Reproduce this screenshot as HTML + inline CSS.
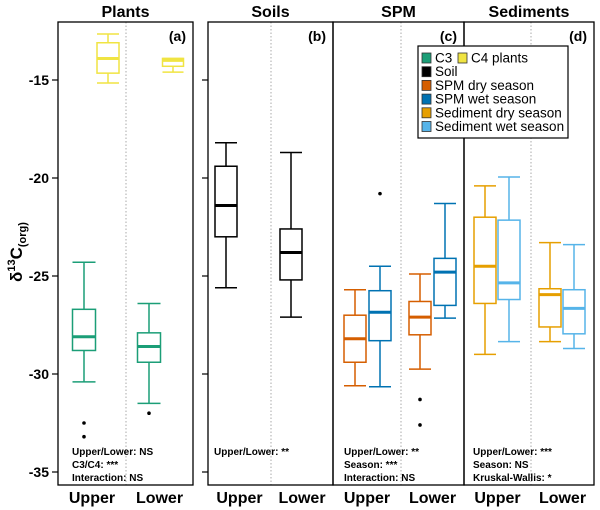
<!DOCTYPE html>
<html><head><meta charset="utf-8"><style>
body{margin:0;background:#fff}
svg{display:block;font-family:"Liberation Sans",Arial,sans-serif}
</style></head><body>
<svg id="chart" width="600" height="510" viewBox="0 0 600 510"></svg>
<script>
// Box stats: [whiskerTop, q3, median, q1, whiskerLow]
const groupNames = ["C3 Upper","C3 Lower","C4 Upper","C4 Lower","Soil Upper","Soil Lower","SPM dry Upper","SPM wet Upper","SPM dry Lower","SPM wet Lower","Sed dry Upper","Sed wet Upper","Sed dry Lower","Sed wet Lower"];
const whiskerTop = [-24.3,-26.4,-12.65,-13.9,-18.2,-18.7,-25.7,-24.5,-24.9,-21.3,-20.4,-19.95,-23.3,-23.4];
const q3Values = [-26.7,-27.9,-13.1,-13.9,-19.4,-22.6,-27.0,-25.75,-26.3,-24.1,-22.0,-22.15,-25.65,-25.7];
const medianValues = [-28.1,-28.6,-13.9,-14.0,-21.4,-23.8,-28.2,-26.85,-27.1,-24.8,-24.5,-25.35,-25.95,-26.65];
const q1Values = [-28.8,-29.4,-14.65,-14.3,-23.0,-25.2,-29.4,-28.3,-28.0,-26.5,-26.4,-26.2,-27.6,-27.95];
const whiskerLow = [-30.4,-31.5,-15.15,-14.6,-25.6,-27.1,-30.6,-30.65,-29.75,-27.15,-29.0,-28.35,-28.35,-28.7];
const outliers = [[-32.5,-33.2],[-32.0],[],[],[],[],[],[-20.8],[-31.3,-32.6],[],[],[],[],[]];
const yTicks = [-15,-20,-25,-30,-35];
const tickLabels = ["-15","-20","-25","-30","-35"];

const centers = [84,149,108,173,226,291,355,380,420,445,485,509,550,574];
const widths = [23,23,22,21,22,22,22,22,22,22,22,22,22,22];
const colors = ["#1b9e77","#1b9e77","#f0e442","#f0e442","#000","#000","#d55e00","#0072b2","#d55e00","#0072b2","#e69f00","#56b4e9","#e69f00","#56b4e9"];

const svg = document.getElementById('chart');
const NS = "http://www.w3.org/2000/svg";
function y(v){ return 80 + (-15 - v) * 19.6; }
function mk(tag, attrs, parent){
  const e = document.createElementNS(NS, tag);
  for (const k in attrs) e.setAttribute(k, attrs[k]);
  (parent||svg).appendChild(e); return e;
}
function txt(s, attrs, parent){ const t = mk('text', attrs, parent); t.textContent = s; return t; }

const panels = [[58,193,"Plants","(a)",126],[208,333,"Soils","(b)",271],[333,464,"SPM","(c)",401],[464,594,"Sediments","(d)",531]];
panels.forEach((p,i)=>{
  const g = mk('g',{});
  
  
  mk('line',{x1:p[4],x2:p[4],y1:22,y2:485,stroke:'#aaa','stroke-width':1,'stroke-dasharray':'1.5,2'},g);
  mk('rect',{x:p[0],y:22,width:p[1]-p[0],height:463,fill:'none',stroke:'#000','stroke-width':1.3},g);
  const t = txt(p[2],{x:(p[0]+p[1])/2,y:17,'text-anchor':'middle','font-size':16,'font-weight':'bold'},g);
  
  
  const l = txt(p[3],{x:p[1]-7,y:41,'text-anchor':'end','font-size':14,'font-weight':'bold'},g);
  
  
  txt("Upper",{x:p[0]+(p[4]-p[0])/2,y:503,'text-anchor':'middle','font-size':16,'font-weight':'bold'},g);
  txt("Lower",{x:p[4]+(p[1]-p[4])/2,y:503,'text-anchor':'middle','font-size':16,'font-weight':'bold'},g);
});

const ax = mk('g',{});


yTicks.forEach((v,i)=>{
  mk('line',{x1:52,x2:58,y1:y(v),y2:y(v),stroke:'#000','stroke-width':1.2},ax);
  mk('line',{x1:202,x2:208,y1:y(v),y2:y(v),stroke:'#000','stroke-width':1.2},ax);
  txt(tickLabels[i],{x:49,y:y(v)+5,'text-anchor':'end','font-size':14,'font-weight':'bold'},ax);
});
const yt = txt("",{transform:'translate(22,252) rotate(-90)','text-anchor':'middle','font-size':17,'font-weight':'bold'},ax);


yt.innerHTML = 'δ<tspan dy="-7" font-size="11">13</tspan><tspan dy="7">C</tspan><tspan dy="4" font-size="11">(org)</tspan>';

groupNames.forEach((n,i)=>{
  const g = mk('g',{});
  
  
  const c = centers[i], w = widths[i], col = colors[i], h = w/2;
  mk('line',{x1:c,x2:c,y1:y(whiskerTop[i]),y2:y(q3Values[i]),stroke:col,'stroke-width':1.5},g);
  mk('line',{x1:c,x2:c,y1:y(q1Values[i]),y2:y(whiskerLow[i]),stroke:col,'stroke-width':1.5},g);
  mk('line',{x1:c-h,x2:c+h,y1:y(whiskerTop[i]),y2:y(whiskerTop[i]),stroke:col,'stroke-width':1.5},g);
  mk('line',{x1:c-h,x2:c+h,y1:y(whiskerLow[i]),y2:y(whiskerLow[i]),stroke:col,'stroke-width':1.5},g);
  mk('rect',{x:c-h,y:y(q3Values[i]),width:w,height:y(q1Values[i])-y(q3Values[i]),fill:'#fff',stroke:col,'stroke-width':1.5},g);
  mk('line',{x1:c-h,x2:c+h,y1:y(medianValues[i]),y2:y(medianValues[i]),stroke:col,'stroke-width':3},g);
  outliers[i].forEach(o=>mk('circle',{cx:c,cy:y(o),r:1.8,fill:'#000'},g));
});

const ann = [[72,["Upper/Lower: NS","C3/C4: ***","Interaction: NS"]],[214,["Upper/Lower: **"]],[344,["Upper/Lower: **","Season: ***","Interaction: NS"]],[473,["Upper/Lower: ***","Season: NS","Kruskal-Wallis: *"]]];
ann.forEach(a=>{
  const g = mk('g',{});
  
  
  a[1].forEach((s,j)=>txt(s,{x:a[0],y:455+j*13,'font-size':10,'font-weight':'bold'},g));
});

const lg = mk('g',{});


mk('rect',{x:418,y:46,width:150,height:92,fill:'#fff',stroke:'#000','stroke-width':1.2},lg);
const legendLabels = ["C3","Soil","SPM dry season","SPM wet season","Sediment dry season","Sediment wet season"];
const legendColors = ["#1b9e77","#000","#d55e00","#0072b2","#e69f00","#56b4e9"];
legendLabels.forEach((s,j)=>{
  const yy = 53+j*13.7;
  mk('rect',{x:422,y:yy,width:9,height:10,fill:legendColors[j],stroke:'#333','stroke-width':0.8},lg);
  txt(s,{x:435,y:yy+9.5,'font-size':13.5},lg);
});
mk('rect',{x:458,y:53,width:9,height:10,fill:'#f0e442',stroke:'#333','stroke-width':0.8},lg);
txt("C4 plants",{x:471,y:62.5,'font-size':13.5},lg);
</script>
</body></html>
